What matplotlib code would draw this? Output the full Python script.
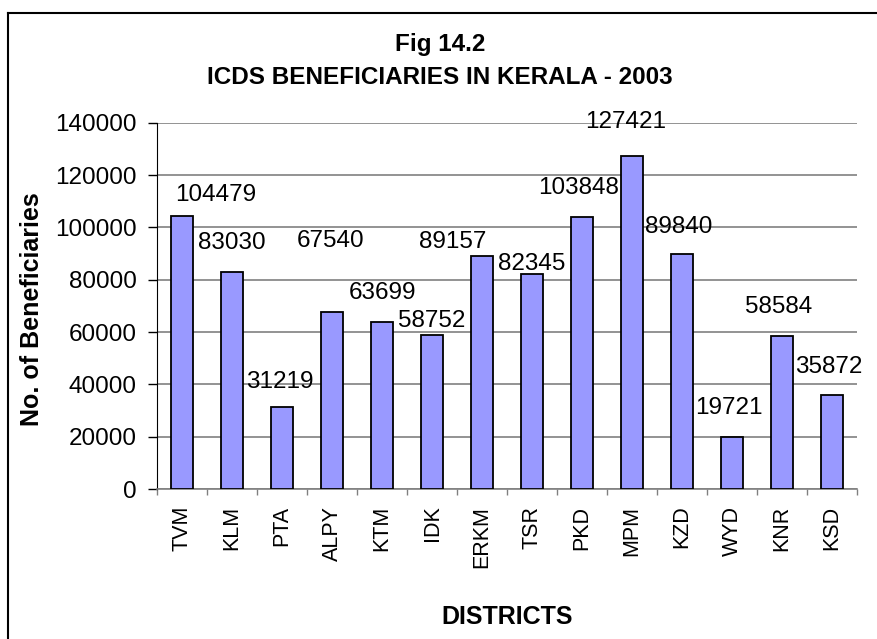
import numpy as np
import matplotlib.pyplot as plt
from matplotlib.lines import Line2D

# data
districts = ['TVM', 'KLM', 'PTA', 'ALPY', 'KTM', 'IDK', 'ERKM', 'TSR',
             'PKD', 'MPM', 'KZD', 'WYD', 'KNR', 'KSD']
beneficiaries = [104479, 83030, 31219, 67540, 63699, 58752, 89157, 82345,
                 103848, 127421, 89840, 19721, 58584, 35872]
yticks = [0, 20000, 40000, 60000, 80000, 100000, 120000, 140000]

# label nudges in pixels (dx, dy above bar top), as placed in the original
label_dx = [34, 0, -2, -1, 0, 0, -29, 0, -3, -6, -3, -3, -3, -3]
label_dy = [21, 29, 25, 71, 29, 14, 14, 10, 29, 34, 27, 29, 29, 28]

plt.rcParams['font.family'] = ['Liberation Sans', 'DejaVu Sans']

W, H = 877, 639
fig = plt.figure(figsize=(W / 100, H / 100), dpi=100)
ax = fig.add_axes([157 / W, 1 - 489 / H, 700 / W, (489 - 122.7) / H])

x = np.arange(len(districts))
ax.bar(x, beneficiaries, width=0.45, color='#9999FF', edgecolor='black',
       linewidth=1.3, zorder=3)

for i, v in enumerate(beneficiaries):
    ax.annotate(str(v), (x[i], v), xytext=(label_dx[i] * 0.72, label_dy[i] * 0.72),
                textcoords='offset points', ha='center', va='center',
                fontsize=17.5, zorder=4)

ax.set_xlim(-0.5, len(districts) - 0.5)
ax.set_ylim(0, 140000)
ax.set_yticks(yticks)
ax.set_yticklabels([str(t) for t in yticks], fontsize=17.5)
ax.tick_params(axis='y', length=6.5, width=1, pad=8, color='black')
ax.yaxis.grid(True, color='#808080', linewidth=1.2, zorder=0)

ax.set_xticks(x)
ax.set_xticklabels(districts, rotation=90, fontsize=15.5)
ax.tick_params(axis='x', which='major', length=0, pad=12)
ax.set_xticks(np.arange(len(districts) + 1) - 0.5, minor=True)
ax.tick_params(axis='x', which='minor', length=4, width=1, color='#808080')

for s in ['top', 'right']:
    ax.spines[s].set_visible(False)
ax.spines['left'].set_color('black')
ax.spines['bottom'].set_color('#808080')
ax.spines['bottom'].set_linewidth(1.2)

fig.text(440 / W, 1 - 45 / H, 'Fig 14.2', ha='center', va='center',
         fontsize=17.5, fontweight='bold')
fig.text(440 / W, 1 - 77 / H, 'ICDS BENEFICIARIES IN KERALA - 2003',
         ha='center', va='center', fontsize=17.5, fontweight='bold')
fig.text(32 / W, 1 - 309 / H, 'No. of Beneficiaries', rotation=90,
         ha='center', va='center', fontsize=18, fontweight='bold')
fig.text(507 / W, 1 - 617 / H, 'DISTRICTS', ha='center', va='center',
         fontsize=18, fontweight='bold')

# outer frame (only left and top edges fall inside the image)
fig.add_artist(Line2D([8 / W, 8 / W], [0, 1 - 13 / H], transform=fig.transFigure,
                      color='black', linewidth=1.5))
fig.add_artist(Line2D([8 / W, 1], [1 - 13 / H, 1 - 13 / H], transform=fig.transFigure,
                      color='black', linewidth=1.5))

plt.savefig('out.png', dpi=100)
